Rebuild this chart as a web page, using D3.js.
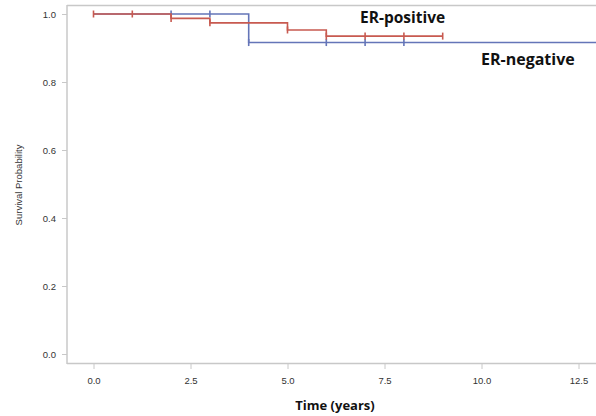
<!DOCTYPE html>
<html><head><meta charset="utf-8">
<script src="https://cdn.jsdelivr.net/npm/d3@7"></script>
<style>body{margin:0;background:#fff}svg{display:block}</style>
</head><body><svg id="c" width="596" height="416"></svg>
<script>
// Data (Kaplan-Meier steps: time, survival after that time)
const erPosTimes = [0, 2, 3, 5, 6, 9];
const erPosSurv  = [1.0, 0.987, 0.974, 0.953, 0.935, 0.935];
const erPosCensor = [[0,1.0],[1,1.0],[2,0.987],[3,0.974],[5,0.953],[6,0.935],[7,0.935],[8,0.935],[9,0.935]];
const erNegTimes = [0, 4, 13.05];
const erNegSurv  = [1.0, 0.916, 0.916];
const erNegCensor = [[2,1.0],[3,1.0],[4,0.916],[6,0.916],[7,0.916],[8,0.916]];
const xTicks = [0, 2.5, 5, 7.5, 10, 12.5];
const yTicks = [0, 0.2, 0.4, 0.6, 0.8, 1.0];

const svg = d3.select("#c");
const x = d3.scaleLinear().domain([0, 12.5]).range([93.5, 578.5]);
const y = d3.scaleLinear().domain([0, 1]).range([354, 14]);
const axisCol = "#c8c8c8", txtCol = "#333";

// frame
svg.append("line").attr("x1",67).attr("x2",596).attr("y1",5.5).attr("y2",5.5).attr("stroke",axisCol).attr("stroke-width",1.5);
svg.append("line").attr("x1",67).attr("x2",67).attr("y1",5).attr("y2",364).attr("stroke",axisCol).attr("stroke-width",1.5);
svg.append("line").attr("x1",67).attr("x2",596).attr("y1",363.5).attr("y2",363.5).attr("stroke",axisCol).attr("stroke-width",1.5);

// x axis
const xa = svg.append("g").attr("transform","translate(0,364)")
  .call(d3.axisBottom(x).tickValues(xTicks).tickFormat(d3.format(".1f")).tickSize(5).tickPadding(8));
xa.select(".domain").remove();
xa.selectAll("line").attr("stroke",axisCol);
xa.selectAll("text").attr("fill",txtCol).style("font-family","Liberation Sans, Arial").style("font-size","9.5px");

// y axis
const ya = svg.append("g").attr("transform","translate(67,0)")
  .call(d3.axisLeft(y).tickValues(yTicks).tickFormat(d3.format(".1f")).tickSize(5).tickPadding(6));
ya.select(".domain").remove();
ya.selectAll("line").attr("stroke",axisCol);
ya.selectAll("text").attr("fill",txtCol).style("font-family","Liberation Sans, Arial").style("font-size","9.5px");

// titles
svg.append("text").attr("x",335).attr("y",410).attr("text-anchor","middle")
  .style("font-family","Open Sans, Liberation Sans").style("font-weight","bold").style("font-size","13px").attr("fill","#111").text("Time (years)");
svg.append("text").attr("transform","translate(22,185) rotate(-90)").attr("text-anchor","middle")
  .style("font-family","Liberation Sans, Arial").style("font-size","9.5px").attr("fill",txtCol).text("Survival Probability");

function drawKM(times, surv, censor, col){
  const pts = times.map((t,i)=>[t, surv[i]]);
  const line = d3.line().x(d=>x(d[0])).y(d=>y(d[1])).curve(d3.curveStepAfter);
  svg.append("path").attr("d", line(pts)).attr("fill","none").attr("stroke",col).attr("stroke-width",1.6);
  svg.append("g").selectAll("line").data(censor).join("line")
    .attr("x1",d=>x(d[0])).attr("x2",d=>x(d[0]))
    .attr("y1",d=>y(d[1])-3.5).attr("y2",d=>y(d[1])+3.5)
    .attr("stroke",col).attr("stroke-width",1.6);
}
const blue = "#6475b8", red = "#c85a50";
drawKM(erNegTimes, erNegSurv, erNegCensor, blue);
drawKM(erPosTimes, erPosSurv, erPosCensor, red);

svg.append("text").attr("x",360).attr("y",23)
  .style("font-family","Open Sans, Liberation Sans").style("font-weight","bold").style("font-size","15.5px").attr("fill","#111").text("ER-positive");
svg.append("text").attr("x",481).attr("y",65)
  .style("font-family","Open Sans, Liberation Sans").style("font-weight","bold").style("font-size","16px").attr("fill","#111").text("ER-negative");
</script></body></html>
